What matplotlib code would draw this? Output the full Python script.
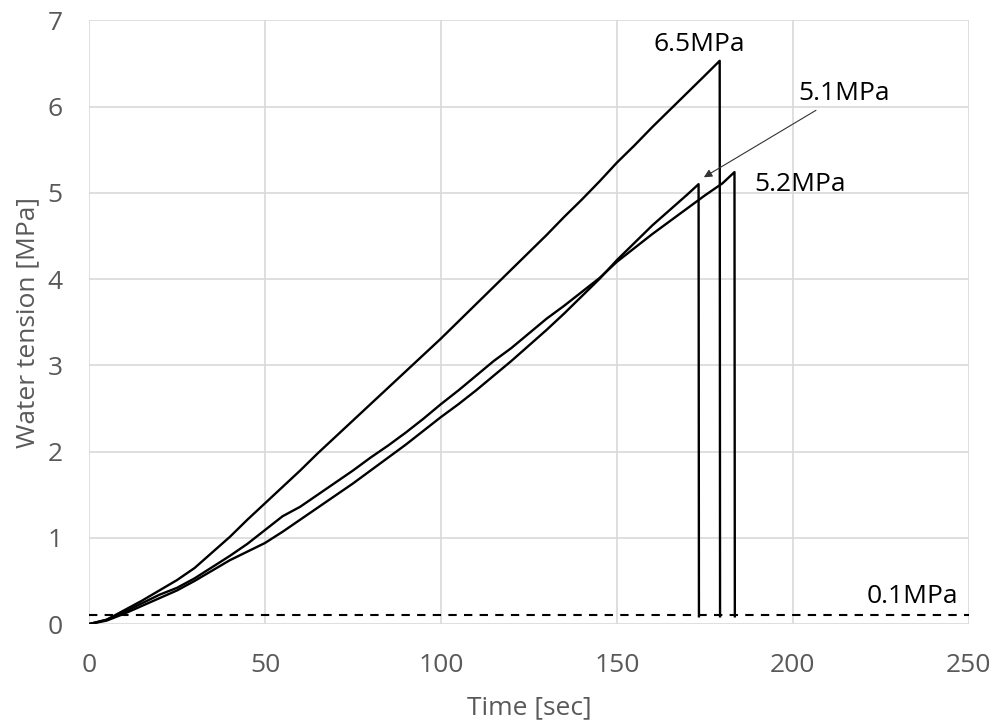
import matplotlib
matplotlib.use("Agg")
import matplotlib.pyplot as plt

plt.rcParams['font.family'] = ['Open Sans', 'DejaVu Sans']

# curve peaking at 6.5 MPa
t_a = [0, 5, 10, 15, 20, 25, 30, 35, 40, 45, 50, 55, 60, 65, 70, 75, 80, 85, 90,
       95, 100, 105, 110, 115, 120, 125, 130, 135, 140, 145, 150, 155, 160, 165,
       170, 175, 179.2, 179.3]
u_a = [0.0, 0.05, 0.16, 0.27, 0.39, 0.51, 0.65, 0.83, 1.01, 1.21, 1.40, 1.59,
       1.78, 1.98, 2.17, 2.36, 2.55, 2.74, 2.93, 3.12, 3.31, 3.51, 3.71, 3.91,
       4.11, 4.31, 4.51, 4.72, 4.92, 5.13, 5.35, 5.55, 5.76, 5.96, 6.16, 6.36,
       6.53, 0.09]

# curve peaking at 5.1 MPa
t_b = [0, 5, 10, 15, 20, 25, 30, 35, 40, 45, 50, 55, 60, 65, 70, 75, 80, 85, 90,
       95, 100, 105, 110, 115, 120, 125, 130, 135, 140, 145, 150, 155, 160, 165,
       170, 173.2, 173.3]
u_b = [0.0, 0.04, 0.12, 0.21, 0.30, 0.39, 0.50, 0.62, 0.74, 0.84, 0.94, 1.07,
       1.21, 1.35, 1.49, 1.63, 1.78, 1.93, 2.08, 2.24, 2.40, 2.55, 2.71, 2.88,
       3.05, 3.23, 3.41, 3.60, 3.80, 4.00, 4.22, 4.42, 4.62, 4.80, 4.98, 5.10,
       0.09]

# curve peaking at 5.2 MPa
t_c = [0, 5, 10, 15, 20, 25, 30, 35, 40, 45, 50, 55, 60, 65, 70, 75, 80, 85, 90,
       95, 100, 105, 110, 115, 120, 125, 130, 135, 140, 145, 150, 155, 160, 165,
       170, 175, 180, 183.4, 183.5]
u_c = [0.0, 0.05, 0.14, 0.24, 0.34, 0.42, 0.53, 0.66, 0.79, 0.93, 1.09, 1.25,
       1.36, 1.50, 1.64, 1.78, 1.93, 2.07, 2.22, 2.38, 2.55, 2.71, 2.88, 3.05,
       3.20, 3.37, 3.54, 3.69, 3.85, 4.01, 4.20, 4.36, 4.52, 4.67, 4.82, 4.97,
       5.11, 5.24, 0.09]

threshold = 0.1

fig = plt.figure(figsize=(10.03, 7.24), dpi=100)
ax = fig.add_axes([0.0887, 0.138, 0.8773, 0.834])

for t, u in [(t_a, u_a), (t_b, u_b), (t_c, u_c)]:
    ax.plot(t, u, color='black', lw=1.7)
ax.axhline(threshold, color='black', lw=1.5, ls=(0, (4, 3.5)))

ax.set_xlim(0, 250)
ax.set_ylim(0, 7)
ax.set_xticks(range(0, 251, 50))
ax.set_yticks(range(0, 8))
ax.grid(True, color='#d9d9d9', lw=1.2)
ax.set_axisbelow(True)
for s in ax.spines.values():
    s.set_visible(False)
ax.tick_params(length=0, labelsize=19, colors='#595959')
ax.tick_params(axis='x', pad=21)
ax.tick_params(axis='y', pad=19)

ax.set_xlabel('Time [sec]', fontsize=19, color='#595959', labelpad=12)
ax.set_ylabel('Water tension [MPa]', fontsize=19, color='#595959', labelpad=5)

ax.text(173.5, 6.72, '6.5MPa', fontsize=19, ha='center', va='center')
ax.text(189, 5.1, '5.2MPa', fontsize=19, ha='left', va='center')
ax.text(247, 0.32, '0.1MPa', fontsize=19, ha='right', va='center')
ax.annotate('5.1MPa', xy=(174.7, 5.18), xytext=(201.5, 6.15),
            fontsize=19, ha='left', va='center',
            arrowprops=dict(arrowstyle='-|>', color='#333333', lw=0.8,
                            mutation_scale=12, shrinkA=2, shrinkB=0))

fig.savefig('out.png', dpi=100)
